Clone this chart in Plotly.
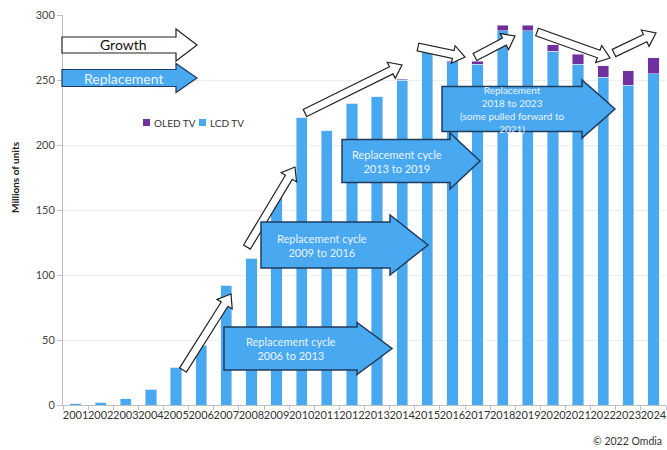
import math
import plotly.graph_objects as go

years = [str(y) for y in range(2001, 2025)]
lcd_tv = [1, 2, 5, 12, 29, 46, 92, 113, 160, 221, 211, 232, 237, 250, 273, 264,
          262, 288, 288, 272, 262, 252, 246, 255]
oled_tv = [0, 0, 0, 0, 0, 0, 0, 0, 0, 0, 0, 0, 0, 0.7, 0, 1,
           2.5, 4, 4, 5, 8, 9, 11, 12]

LCD_COLOR = "#48A8F0"
OLED_COLOR = "#7030A0"
ARROW_EDGE = "#1F3B5E"
FONT = "Lato, Open Sans, sans-serif"

# plot area in pixels
PL, PR, PT, PB = 63, 666, 15, 405
W, H = 667, 450


def px(x):
    return (x - PL) / (PR - PL)


def py(y):
    return (PB - y) / (PB - PT)


def arrow_path(tail, tip, half, head_half, head_len):
    x0, y0 = tail
    x1, y1 = tip
    L = math.hypot(x1 - x0, y1 - y0)
    ux, uy = (x1 - x0) / L, (y1 - y0) / L
    nx, ny = -uy, ux
    bx, by = x1 - ux * head_len, y1 - uy * head_len
    pts = [
        (x0 + nx * half, y0 + ny * half),
        (bx + nx * half, by + ny * half),
        (bx + nx * head_half, by + ny * head_half),
        (x1, y1),
        (bx - nx * head_half, by - ny * head_half),
        (bx - nx * half, by - ny * half),
        (x0 - nx * half, y0 - ny * half),
    ]
    return "M " + " L ".join(f"{px(a):.5f},{py(b):.5f}" for a, b in pts) + " Z"


fig = go.Figure()
fig.add_trace(go.Bar(x=years, y=lcd_tv, name="LCD TV", marker_color=LCD_COLOR,
                     showlegend=False))
fig.add_trace(go.Bar(x=years, y=oled_tv, name="OLED TV", marker_color=OLED_COLOR,
                     showlegend=False))

shapes = []
# small white trend arrows
small = [((183, 370), (231, 294)), ((247, 247), (295, 167)), ((305, 113), (402, 65)),
         ((418, 47), (465, 57)), ((475, 57), (515, 36)), ((537, 32), (610, 58)),
         ((614, 53), (656, 33))]
for t, h in small:
    shapes.append(dict(type="path", xref="paper", yref="paper",
                       path=arrow_path(t, h, 4, 9, 12), fillcolor="white",
                       line=dict(color="#222222", width=1.2)))

# key arrows top-left
shapes.append(dict(type="path", xref="paper", yref="paper",
                   path=arrow_path((62, 45), (197, 45), 8, 16, 21), fillcolor="white",
                   line=dict(color="#222222", width=1.2)))
shapes.append(dict(type="path", xref="paper", yref="paper",
                   path=arrow_path((62, 78), (197, 78), 8.5, 14.5, 21), fillcolor=LCD_COLOR,
                   line=dict(color=ARROW_EDGE, width=1.2)))

big = [((224, 348.5), (392, 348.5), 21.5, 26, 35),
       ((261, 245), (428, 245), 23, 30, 38),
       ((342, 161), (480, 161), 21.5, 28, 30),
       ((442, 109), (615, 109), 22.5, 29, 33)]
for t, h, a, b, c in big:
    shapes.append(dict(type="path", xref="paper", yref="paper",
                       path=arrow_path(t, h, a, b, c), fillcolor=LCD_COLOR,
                       line=dict(color=ARROW_EDGE, width=1.5)))

# manual legend squares
shapes.append(dict(type="rect", xref="paper", yref="paper", x0=px(143), x1=px(150),
                   y0=py(126), y1=py(119), fillcolor=OLED_COLOR, line=dict(width=0)))
shapes.append(dict(type="rect", xref="paper", yref="paper", x0=px(199), x1=px(206),
                   y0=py(126), y1=py(119), fillcolor=LCD_COLOR, line=dict(width=0)))

ann_font = dict(family=FONT, size=11, color="#EAF4FF")


def ann(x, y, text, font, **kw):
    d = dict(x=px(x), y=py(y), xref="paper", yref="paper", text=text, showarrow=False,
             xanchor="center", yanchor="middle", font=font)
    d.update(kw)
    return d


annotations = [
    ann(123, 45, "Growth", dict(family=FONT, size=14, color="#111111")),
    ann(123, 78, "Replacement", dict(family=FONT, size=14, color="#EAF4FF")),
    ann(291, 348, "Replacement cycle<br>2006 to 2013", ann_font),
    ann(322, 245, "Replacement cycle<br>2009 to 2016", ann_font),
    ann(397, 161, "Replacement cycle<br>2013 to 2019", ann_font),
    ann(512, 109, "Replacement<br>2018 to 2023<br>(some pulled forward to<br>2021)",
        dict(family=FONT, size=10, color="#EAF4FF")),
    ann(15, 177, "<b>Millions of units</b>", dict(family=FONT, size=10, color="#222222"),
        textangle=-90),
    ann(152, 122.5, "OLED TV", dict(family=FONT, size=10, color="#333333"), xanchor="left"),
    ann(208, 122.5, "LCD TV", dict(family=FONT, size=10, color="#333333"), xanchor="left"),
    ann(664, 441, "© 2022 Omdia", dict(family=FONT, size=10.5, color="#333333"),
        xanchor="right"),
]

fig.update_layout(
    width=W, height=H,
    margin=dict(l=PL, r=W - PR, t=PT, b=H - PB),
    barmode="stack", bargap=0.55,
    plot_bgcolor="white", paper_bgcolor="white",
    font=dict(family=FONT, size=11, color="#444444"),
    shapes=shapes, annotations=annotations,
    showlegend=False,
)
fig.update_xaxes(type="category", showline=True, linecolor="#BFBFBF", ticks="outside",
                 tickson="boundaries", ticklen=4, tickcolor="#BFBFBF",
                 tickfont=dict(size=11, color="#333333"), tickangle=0)
fig.update_yaxes(range=[0, 300], dtick=50, showline=True, linecolor="#BFBFBF",
                 ticks="outside", ticklen=5, tickcolor="#BFBFBF", gridcolor="#EDEDED",
                 tickfont=dict(size=11, color="#444444"), zeroline=False)

fig.write_html("out.html")
